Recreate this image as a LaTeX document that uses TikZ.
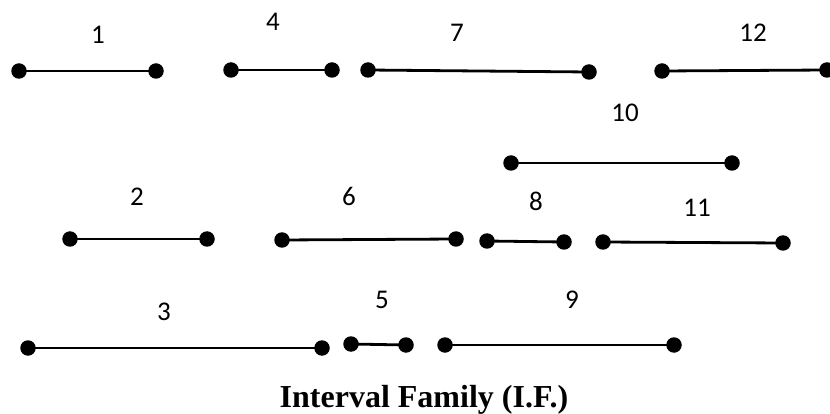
\documentclass[tikz,border=0pt]{standalone}
\usepackage{fontspec}
\setmainfont{Liberation Serif}
\newfontfamily\labelfont{Carlito}
\begin{document}
\begin{tikzpicture}[x=1pt,y=-1pt,
  endpt/.style={circle,fill=black,inner sep=0pt,minimum size=15.5pt},
  seg/.style={line width=2.8pt},
  lbl/.style={font=\labelfont\fontsize{27}{32}\selectfont,inner sep=0pt}]
\useasboundingbox (0,0) rectangle (830,414);
% interval endpoints
\node[endpt] (a1) at (19,71) {};   \node[endpt] (b1) at (156,71) {};
\node[endpt] (a4) at (231,70) {};  \node[endpt] (b4) at (332,70) {};
\node[endpt] (a7) at (368,70) {};  \node[endpt] (b7) at (589,72) {};
\node[endpt] (a12) at (662,71) {}; \node[endpt] (b12) at (827,70) {};
\node[endpt] (a10) at (511,163) {}; \node[endpt] (b10) at (732,163) {};
\node[endpt] (a2) at (70,239) {};  \node[endpt] (b2) at (207,239) {};
\node[endpt] (a6) at (282,240) {}; \node[endpt] (b6) at (456,239) {};
\node[endpt] (a8) at (487,241) {}; \node[endpt] (b8) at (564,242) {};
\node[endpt] (a11) at (603,242) {}; \node[endpt] (b11) at (783,243) {};
\node[endpt] (a3) at (28,348) {};  \node[endpt] (b3) at (322,348) {};
\node[endpt] (a5) at (351,344) {}; \node[endpt] (b5) at (406,345) {};
\node[endpt] (a9) at (445,345) {}; \node[endpt] (b9) at (674,345) {};
% segments
\foreach \i in {1,...,12} \draw[seg] (a\i.center) -- (b\i.center);
% labels
\node[lbl] (l1) at (98,35) {1};
\node[lbl] (l4) at (273,22) {4};
\node[lbl] (l7) at (457,33) {7};
\node[lbl] (l12) at (753,33) {12};
\node[lbl] (l10) at (625,113) {10};
\node[lbl] (l2) at (137,197) {2};
\node[lbl] (l6) at (349,196) {6};
\node[lbl] (l8) at (536,201) {8};
\node[lbl] (l11) at (697,208) {11};
\node[lbl] (l3) at (164,312) {3};
\node[lbl] (l5) at (382,300) {5};
\node[lbl] (l9) at (572,300) {9};
% caption
\node[font=\bfseries\fontsize{32}{36}\selectfont,inner sep=0pt,anchor=base] (cap) at (424,407) {Interval Family (I.F.)};
\end{tikzpicture}
\end{document}
